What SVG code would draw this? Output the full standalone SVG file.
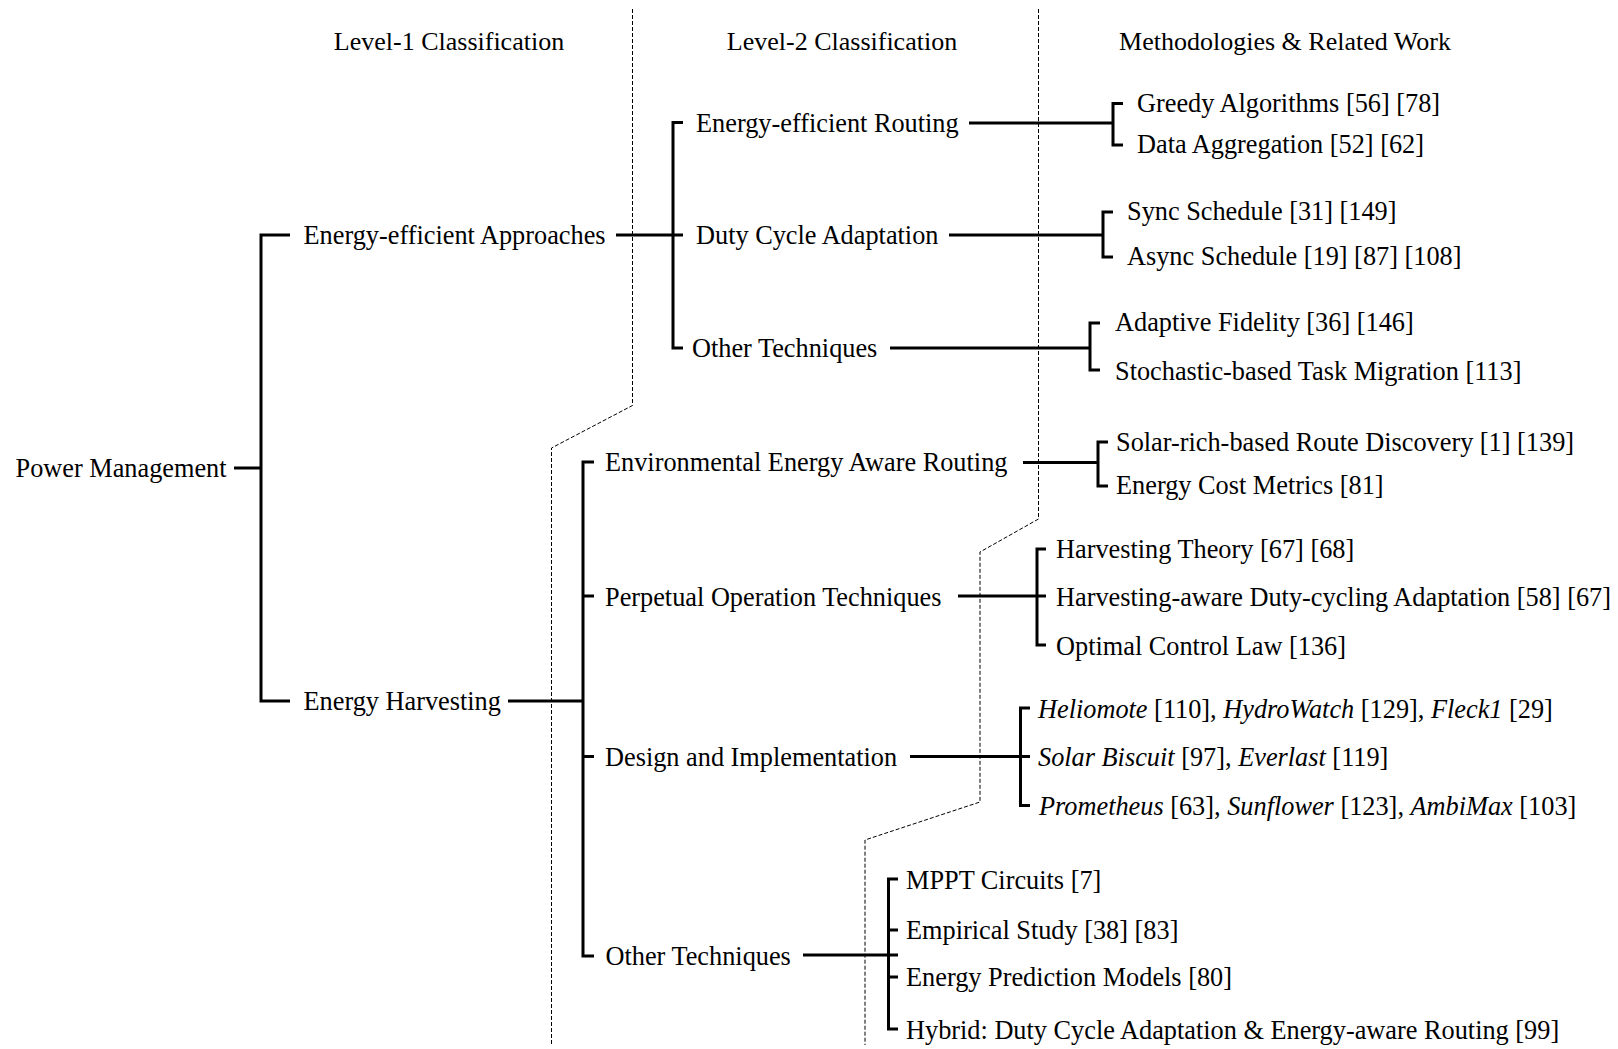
<svg xmlns="http://www.w3.org/2000/svg" width="1618" height="1049" viewBox="0 0 1618 1049">
  <style>
    text { font-family: "Liberation Serif", "Times New Roman", serif; font-size: 26.3px; fill: #000; }
    .hdr { text-anchor: middle; font-size: 26px; }
    .it { font-style: italic; }
    .link { fill: none; stroke: #000; stroke-width: 3; stroke-linejoin: miter; stroke-linecap: butt; }
    .divider { fill: none; stroke: #000; stroke-width: 1; stroke-dasharray: 4 2; }
  </style>
  <rect width="1618" height="1049" fill="#fff"/>

  <!-- column dividers -->
  <g id="dividers">
    <path class="divider" d="M632.5,9 V405.5 L551.5,448 V1045"/>
    <path class="divider" d="M1038.5,9 V519 L980,552 V802 L865,840 V1045"/>
  </g>

  <!-- column headings -->
  <g id="headings">
    <text class="hdr" x="449" y="50">Level-1 Classification</text>
    <text class="hdr" x="842" y="50">Level-2 Classification</text>
    <text class="hdr" x="1285" y="50">Methodologies &amp; Related Work</text>
  </g>

  <!-- tree connectors -->
  <g id="connectors">
    <path class="link" d="M234,468 H261"/>
    <path class="link" d="M290,235 H261 V701 H290"/>
    <!-- Energy-efficient Approaches -->
    <path class="link" d="M616,235 H683"/>
    <path class="link" d="M683,122.5 H673 V348 H683"/>
    <path class="link" d="M969,123 H1113"/>
    <path class="link" d="M1123,103.5 H1113 V145 H1123"/>
    <path class="link" d="M949,235 H1103"/>
    <path class="link" d="M1113,212 H1103 V257 H1113"/>
    <path class="link" d="M890,348 H1090"/>
    <path class="link" d="M1100,323 H1090 V370 H1100"/>
    <!-- Energy Harvesting -->
    <path class="link" d="M508,701 H583"/>
    <path class="link" d="M594,462 H583 V956 H594 M583,596 H594 M583,756.5 H594"/>
    <path class="link" d="M1023,462.5 H1098"/>
    <path class="link" d="M1108,442 H1098 V486 H1108"/>
    <path class="link" d="M958,596 H1046"/>
    <path class="link" d="M1046,549 H1037 V645 H1046"/>
    <path class="link" d="M910,756.5 H1030"/>
    <path class="link" d="M1030,708 H1020.5 V805.5 H1030"/>
    <path class="link" d="M803,955 H898"/>
    <path class="link" d="M898,879 H888.5 V1029 H898 M888.5,930 H898 M888.5,977 H898"/>
  </g>

  <!-- root -->
  <g id="n-power-management"><text x="15.5" y="477">Power Management</text></g>

  <!-- level 1 -->
  <g id="n-energy-efficient"><text x="303.5" y="244">Energy-efficient Approaches</text></g>
  <g id="n-energy-harvesting"><text x="303.5" y="710">Energy Harvesting</text></g>

  <!-- level 2 -->
  <g id="n-ee-routing"><text x="696" y="132">Energy-efficient Routing</text></g>
  <g id="n-duty-cycle"><text x="696" y="244">Duty Cycle Adaptation</text></g>
  <g id="n-ee-other"><text x="692" y="357">Other Techniques</text></g>
  <g id="n-env-routing"><text x="605" y="471">Environmental Energy Aware Routing</text></g>
  <g id="n-perpetual"><text x="605" y="605.5">Perpetual Operation Techniques</text></g>
  <g id="n-design"><text x="605" y="765.5">Design and Implementation</text></g>
  <g id="n-eh-other"><text x="605.5" y="965">Other Techniques</text></g>

  <!-- methodologies -->
  <g id="m-greedy"><text x="1137" y="111.5">Greedy Algorithms [56] [78]</text></g>
  <g id="m-aggregation"><text x="1137" y="153">Data Aggregation [52] [62]</text></g>
  <g id="m-sync"><text x="1127" y="220">Sync Schedule [31] [149]</text></g>
  <g id="m-async"><text x="1127" y="265">Async Schedule [19] [87] [108]</text></g>
  <g id="m-fidelity"><text x="1115" y="331">Adaptive Fidelity [36] [146]</text></g>
  <g id="m-stochastic"><text x="1115" y="380">Stochastic-based Task Migration [113]</text></g>
  <g id="m-solar-route"><text x="1116" y="451">Solar-rich-based Route Discovery [1] [139]</text></g>
  <g id="m-cost"><text x="1116" y="494">Energy Cost Metrics [81]</text></g>
  <g id="m-theory"><text x="1056" y="558">Harvesting Theory [67] [68]</text></g>
  <g id="m-ha-duty"><text x="1056" y="605.5">Harvesting-aware Duty-cycling Adaptation [58] [67]</text></g>
  <g id="m-control"><text x="1056" y="654.5">Optimal Control Law [136]</text></g>
  <g id="m-platforms-1"><text x="1038" y="717.5"><tspan class="it">Heliomote</tspan> [110], <tspan class="it">HydroWatch</tspan> [129], <tspan class="it">Fleck1</tspan> [29]</text></g>
  <g id="m-platforms-2"><text x="1038" y="765.5"><tspan class="it">Solar Biscuit</tspan> [97], <tspan class="it">Everlast</tspan> [119]</text></g>
  <g id="m-platforms-3"><text x="1039" y="815"><tspan class="it">Prometheus</tspan> [63], <tspan class="it">Sunflower</tspan> [123], <tspan class="it">AmbiMax</tspan> [103]</text></g>
  <g id="m-mppt"><text x="906" y="888.5">MPPT Circuits [7]</text></g>
  <g id="m-empirical"><text x="906" y="939">Empirical Study [38] [83]</text></g>
  <g id="m-prediction"><text x="906" y="986">Energy Prediction Models [80]</text></g>
  <g id="m-hybrid"><text x="906" y="1038.5">Hybrid: Duty Cycle Adaptation &amp; Energy-aware Routing [99]</text></g>
</svg>
